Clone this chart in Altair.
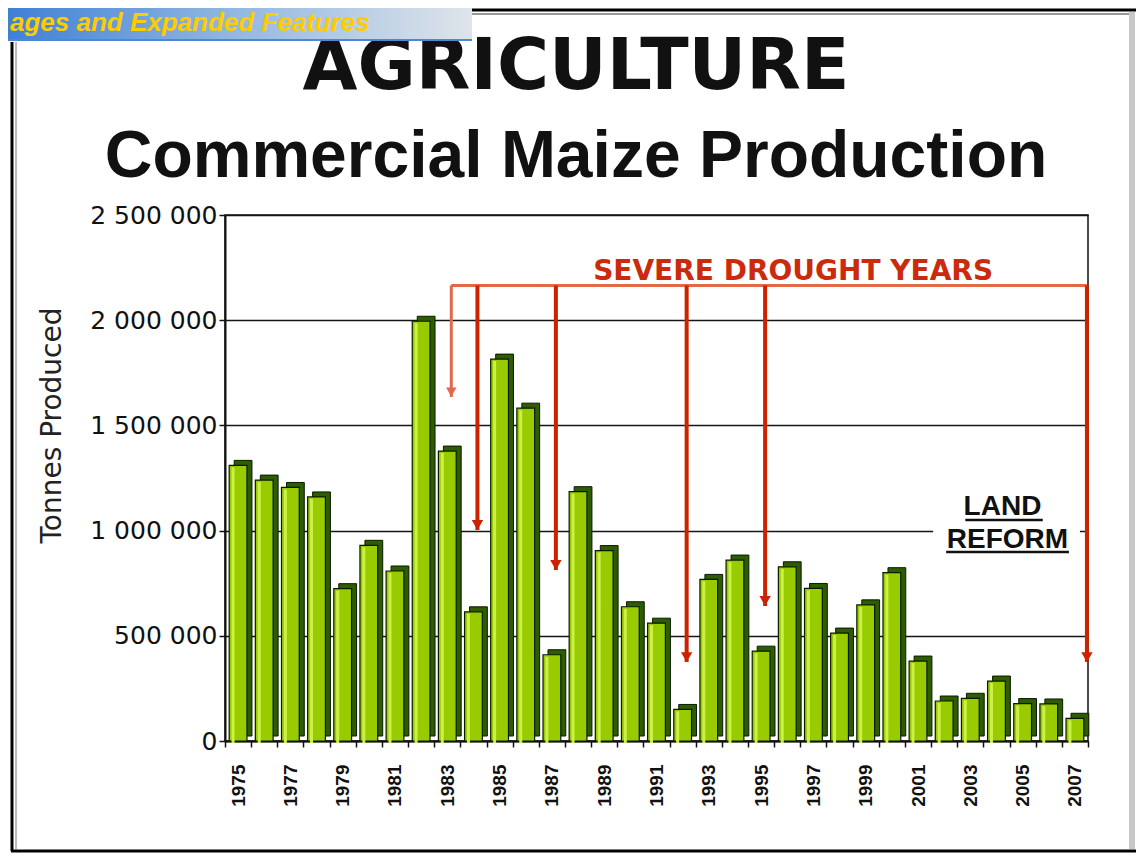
import altair as alt
import pandas as pd

# ---------------- data ----------------
years = list(range(1975, 2008))
tonnes = [1310000, 1240000, 1205000, 1160000, 724000, 930000, 808000, 1995000,
          1378000, 614000, 1815000, 1582000, 410000, 1185000, 905000, 638000,
          560000, 150000, 768000, 860000, 427000, 828000, 725000, 513000,
          647000, 800000, 380000, 190000, 203000, 285000, 178000, 176000, 108000]

drought_years = [1983, 1984, 1987, 1992, 1995, 2007]
arrow_tips = [1635000, 1003000, 813000, 375000, 642000, 375000]
bracket_level = 2165000

y_ticks = [0, 500000, 1000000, 1500000, 2000000, 2500000]

banner_text = ["ages and Expanded Features"]
title_text = ["AGRICULTURE"]
subtitle_text = ["Commercial Maize Production"]
drought_label = ["SEVERE DROUGHT YEARS"]
land_label = ["LAND"]
reform_label = ["REFORM"]
y_title = "Tonnes Produced"

df = pd.DataFrame({"year": years, "tonnes": tonnes})
ddf = pd.DataFrame({"year": drought_years, "tip": arrow_tips,
                    "level": [bracket_level] * len(drought_years)})
bracket_df = pd.DataFrame({"year": [drought_years[0]], "year_end": [drought_years[-1]],
                           "level": [bracket_level]})
one = pd.DataFrame({"k": [0]})

RED = "#cc2200"
LIGHT_RED = "#e2684a"

xscale = alt.Scale(type="band", domain=years, paddingInner=0, paddingOuter=0)
yscale = alt.Scale(domain=[0, 2500000], nice=False, zero=True)

x_axis = alt.Axis(
    title=None, labelAngle=-90,
    labelExpr="toNumber(datum.value) % 2 == 1 ? datum.label : ''",
    labelOverlap=False, labelFont="Liberation Sans", labelFontWeight="bold",
    labelFontSize=19, labelColor="#111", labelPadding=17,
    tickBand="extent", tickSize=6, tickColor="#111", tickWidth=1.5,
    domainColor="#111", domainWidth=2,
)
y_axis = alt.Axis(
    values=y_ticks, title=y_title,
    labelExpr="replace(format(datum.value, ','), regexp(',', 'g'), ' ')",
    labelFont="DejaVu Sans", labelFontSize=25, labelColor="#111", labelPadding=2,
    tickSize=6, tickColor="#111", tickWidth=1.5,
    domainColor="#111", domainWidth=2,
    grid=True, gridColor="#151515", gridWidth=1.6,
    titleFont="DejaVu Sans", titleFontSize=28, titleFontWeight="normal",
    titleColor="#222", titleX=-173, titleY=210, titleAngle=-90,
    titleAlign="center", titleBaseline="middle",
)

X = alt.X("year:O", scale=xscale, axis=x_axis)
Y = alt.Y("tonnes:Q", scale=yscale, axis=y_axis)

# white patch behind LAND REFORM (interrupts the 1 000 000 grid line)
patch = alt.Chart(one).mark_rule(color="white", strokeWidth=5, xOffset=-11, x2Offset=5).encode(
    x=alt.X("a:O"), x2=alt.X2("b:O"), y=alt.datum(1000000)
).transform_calculate(a="2002", b="2007")

back = alt.Chart(df).mark_bar(
    width=alt.RelativeBandSize(0.68), color="#2e5c00", stroke="#0a1a00",
    strokeWidth=1, xOffset=5, yOffset=-5
).encode(x=X, y=Y)

front = alt.Chart(df).mark_bar(
    width=alt.RelativeBandSize(0.68), color="#99cc00", stroke="#0a1a00",
    strokeWidth=1.2
).encode(x=X, y=Y)

stripe = alt.Chart(df).mark_bar(
    width=3, color="#ccf046", xOffset=-5, yOffset=2
).encode(x=X, y=Y)

# drought arrows
arrow_a = alt.Chart(ddf).transform_filter(
    alt.FieldOneOfPredicate(field="year", oneOf=[1983])
).mark_rule(color=LIGHT_RED, strokeWidth=3, xOffset=4).encode(
    x="year:O", y="level:Q", y2="tip:Q")
arrow_b = alt.Chart(ddf).transform_filter(
    alt.FieldOneOfPredicate(field="year", oneOf=[1984, 1987, 1992, 1995])
).mark_rule(color=RED, strokeWidth=4, xOffset=4).encode(
    x="year:O", y="level:Q", y2="tip:Q")
arrow_c = alt.Chart(ddf).transform_filter(
    alt.FieldOneOfPredicate(field="year", oneOf=[2007])
).mark_rule(color=RED, strokeWidth=4, xOffset=12).encode(
    x="year:O", y="level:Q", y2="tip:Q")

head_a = alt.Chart(ddf).transform_filter(
    alt.FieldOneOfPredicate(field="year", oneOf=[1983])
).mark_point(shape="triangle-down", filled=True, size=110, color=LIGHT_RED,
             opacity=1, xOffset=4, yOffset=-5).encode(x="year:O", y="tip:Q")
head_b = alt.Chart(ddf).transform_filter(
    alt.FieldOneOfPredicate(field="year", oneOf=[1984, 1987, 1992, 1995])
).mark_point(shape="triangle-down", filled=True, size=130, color=RED,
             opacity=1, xOffset=4, yOffset=-5).encode(x="year:O", y="tip:Q")
head_c = alt.Chart(ddf).transform_filter(
    alt.FieldOneOfPredicate(field="year", oneOf=[2007])
).mark_point(shape="triangle-down", filled=True, size=130, color=RED,
             opacity=1, xOffset=12, yOffset=-5).encode(x="year:O", y="tip:Q")

bracket = alt.Chart(bracket_df).mark_rule(
    color=LIGHT_RED, strokeWidth=3, xOffset=4, x2Offset=12
).encode(x="year:O", x2="year_end:O", y="level:Q")

drought_txt = alt.Chart(pd.DataFrame({"t": drought_label, "year": [1995], "v": [2190000]})).mark_text(
    font="DejaVu Sans", fontWeight="bold", fontSize=28, color="#cc2a0c",
    align="center", baseline="alphabetic", dx=32
).encode(x="year:O", y="v:Q", text="t:N")

land_txt = alt.Chart(pd.DataFrame({"t": land_label, "year": [2004], "v": [1074000]})).mark_text(
    font="Liberation Sans", fontWeight="bold", fontSize=28, color="#111",
    align="center", baseline="alphabetic", dx=6
).encode(x="year:O", y="v:Q", text="t:N")
reform_txt = alt.Chart(pd.DataFrame({"t": reform_label, "year": [2004], "v": [917000]})).mark_text(
    font="Liberation Sans", fontWeight="bold", fontSize=28, color="#111",
    align="center", baseline="alphabetic", dx=11
).encode(x="year:O", y="v:Q", text="t:N")

land_ul = alt.Chart(pd.DataFrame({"year": [2003], "year_end": [2006], "v": [1050000]})).mark_rule(
    color="#111", strokeWidth=2.5, xOffset=-5, x2Offset=-6
).encode(x="year:O", x2="year_end:O", y="v:Q")
reform_ul = alt.Chart(pd.DataFrame({"year": [2002], "year_end": [2007], "v": [898000]})).mark_rule(
    color="#111", strokeWidth=2.5, xOffset=2, x2Offset=-6
).encode(x="year:O", x2="year_end:O", y="v:Q")

# titles
title = alt.Chart(pd.DataFrame({"t": title_text})).mark_text(
    font="DejaVu Sans", fontWeight="bold", fontSize=71, color="#111",
    align="center", baseline="alphabetic"
).encode(text="t:N", x=alt.value(351), y=alt.value(-126))
subtitle = alt.Chart(pd.DataFrame({"t": subtitle_text})).mark_text(
    font="Liberation Sans", fontWeight="bold", fontSize=66, color="#111",
    align="center", baseline="alphabetic"
).encode(text="t:N", x=alt.value(351), y=alt.value(-38))

# slide decorations: banner and frame
banner = alt.Chart(one).mark_rect(
    color=alt.LinearGradient(
        gradient="linear",
        stops=[alt.GradientStop(color="#3f80d6", offset=0),
               alt.GradientStop(color="#8db4e0", offset=0.45),
               alt.GradientStop(color="#dfe4ea", offset=1)],
        x1=0, x2=1, y1=0, y2=0)
).encode(x=alt.value(-217), x2=alt.value(247), y=alt.value(-207), y2=alt.value(-175))
banner_line = alt.Chart(one).mark_rule(color="#4d88d2", strokeWidth=2).encode(
    x=alt.value(-217), x2=alt.value(247), y=alt.value(-175))
banner_txt = alt.Chart(pd.DataFrame({"t": banner_text})).mark_text(
    font="Liberation Sans", fontWeight="bold", fontStyle="italic", fontSize=26,
    color="#ffcc00", align="left", baseline="alphabetic"
).encode(text="t:N", x=alt.value(-215), y=alt.value(-184))

frame_top = alt.Chart(one).mark_rule(color="#000", strokeWidth=3).encode(
    x=alt.value(247), x2=alt.value(911), y=alt.value(-205))
frame_top2 = alt.Chart(one).mark_rule(color="#999", strokeWidth=2).encode(
    x=alt.value(247), x2=alt.value(908), y=alt.value(-201))
frame_left = alt.Chart(one).mark_rule(color="#000", strokeWidth=3).encode(
    x=alt.value(-213), y=alt.value(-173), y2=alt.value(636))
frame_left2 = alt.Chart(one).mark_rule(color="#777", strokeWidth=1).encode(
    x=alt.value(-209), y=alt.value(-173), y2=alt.value(634))
frame_bottom = alt.Chart(one).mark_rule(color="#000", strokeWidth=3).encode(
    x=alt.value(-214), x2=alt.value(911), y=alt.value(636))
frame_right = alt.Chart(one).mark_rule(color="#c8c8c8", strokeWidth=6).encode(
    x=alt.value(907), y=alt.value(-203), y2=alt.value(634))

chart = alt.layer(
    patch, back, front, stripe,
    bracket, arrow_a, arrow_b, arrow_c, head_a, head_b, head_c,
    drought_txt, land_txt, reform_txt, land_ul, reform_ul,
    title, subtitle,
    banner, banner_line, banner_txt,
    frame_top, frame_top2, frame_left, frame_left2, frame_bottom, frame_right,
).properties(
    width=863, height=526,
    autosize=alt.AutoSizeParams(type="none"),
    padding={"left": 217, "top": 207, "right": 48, "bottom": 112},
    background="white",
).configure_view(stroke="#111", strokeWidth=1.5)

chart.save("out.html", embed_options={"renderer": "svg", "actions": False})
